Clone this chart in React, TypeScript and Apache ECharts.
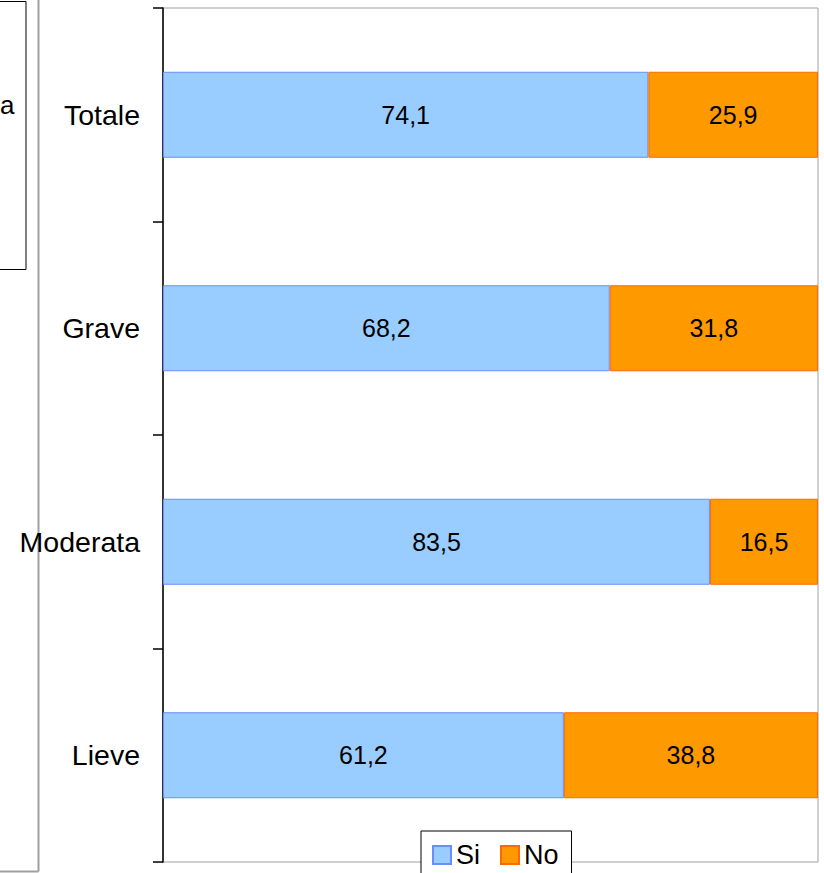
import React, { useEffect, useRef } from "react";
import * as echarts from "echarts";

const categories = ["Lieve", "Moderata", "Grave", "Totale"];
const siValues = [61.2, 83.5, 68.2, 74.1];
const noValues = [38.8, 16.5, 31.8, 25.9];
const seriesNames = ["Si", "No"];

const FONT = "'Liberation Sans', Arial, sans-serif";

export default function App() {
  const ref = useRef<HTMLDivElement>(null);
  useEffect(() => {
    if (!ref.current) return;
    const chart = echarts.init(ref.current, null, { renderer: "svg" });
    const fmt = (p: any) => Number(p.value).toFixed(1).replace(".", ",");
    chart.setOption({
      animation: false,
      backgroundColor: "#ffffff",
      textStyle: { fontFamily: FONT },
      grid: {
        left: 163,
        right: 6,
        top: 8,
        bottom: 11,
        show: true,
        borderColor: "#a0a0a0",
        borderWidth: 1,
        backgroundColor: "transparent",
      },
      xAxis: {
        type: "value",
        min: 0,
        max: 100,
        axisLabel: { show: false },
        axisTick: { show: false },
        axisLine: { show: false },
        splitLine: { show: false },
      },
      yAxis: {
        type: "category",
        data: categories,
        axisLine: { show: true, lineStyle: { color: "#000000", width: 1.5 } },
        axisTick: { show: true, length: 10, lineStyle: { color: "#000000", width: 1.5 } },
        axisLabel: { fontSize: 28.5, color: "#000000", margin: 23, fontFamily: FONT },
        splitLine: { show: false },
      },
      legend: {
        data: seriesNames,
        left: 421,
        top: 831,
        orient: "horizontal",
        padding: [9, 13, 20, 11],
        itemWidth: 18,
        itemHeight: 18,
        itemGap: 20,
        icon: "rect",
        borderColor: "#000000",
        borderWidth: 1,
        backgroundColor: "#ffffff",
        textStyle: { fontSize: 27, lineHeight: 30, color: "#000000", fontFamily: FONT },
      },
      series: [
        {
          name: seriesNames[0],
          type: "bar",
          stack: "tot",
          barWidth: 86,
          data: siValues,
          itemStyle: { color: "#99CCFF", borderColor: "#6A8CFF", borderWidth: 1 },
          label: { show: true, position: "inside", color: "#000000", fontSize: 25, fontFamily: FONT, formatter: fmt },
        },
        {
          name: seriesNames[1],
          type: "bar",
          stack: "tot",
          barWidth: 86,
          data: noValues,
          itemStyle: { color: "#FF9900", borderColor: "#FF6A00", borderWidth: 1 },
          label: { show: true, position: "inside", color: "#000000", fontSize: 25, fontFamily: FONT, formatter: fmt },
        },
      ],
      graphic: [
        {
          type: "rect",
          shape: { x: -5, y: 1.5, width: 31, height: 268 },
          style: { fill: "none", stroke: "#000000", lineWidth: 1 },
          z: 0,
        },
        {
          type: "text",
          x: 0,
          y: 105,
          style: { text: "a", fontSize: 26, fill: "#000000", align: "left", verticalAlign: "middle", fontFamily: FONT },
        },
        {
          type: "line",
          shape: { x1: 38.5, y1: 0, x2: 38.5, y2: 871.5 },
          style: { stroke: "#a0a0a0", lineWidth: 2 },
          z: 0,
        },
        {
          type: "line",
          shape: { x1: 0, y1: 871.5, x2: 38.5, y2: 871.5 },
          style: { stroke: "#a0a0a0", lineWidth: 2 },
          z: 0,
        },
      ],
    });
    return () => chart.dispose();
  }, []);
  return <div ref={ref} style={{ position: "absolute", left: 0, top: 0, width: 824, height: 873 }} />;
}
